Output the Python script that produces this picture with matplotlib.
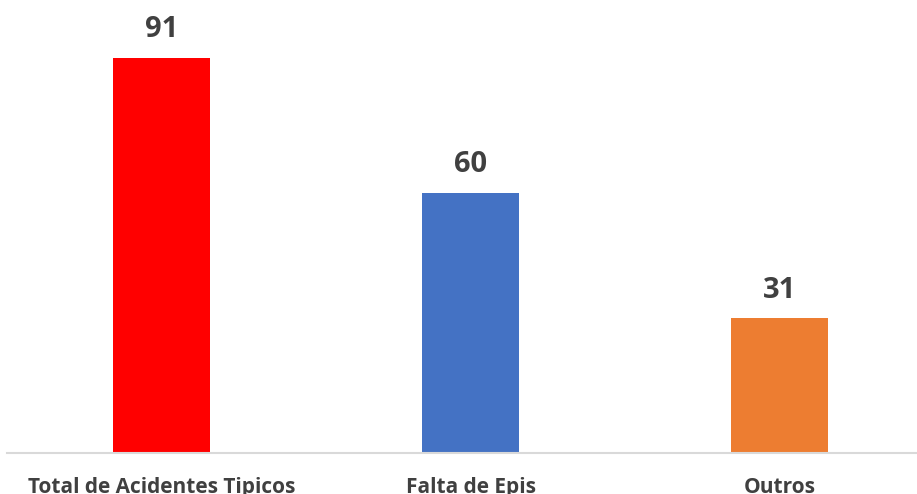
import matplotlib.pyplot as plt

# dados
categorias = ['Total de Acidentes Tipicos', 'Falta de Epis', 'Outros']
valores = [91, 60, 31]
cores = ['#FF0000', '#4472C4', '#ED7D31']

fig = plt.figure(figsize=(9.17, 4.94), dpi=100)
# eixo um pouco maior que a figura, como no recorte original
ax = fig.add_axes([7 / 917, 41 / 494, 927 / 917, 434 / 494])

x = range(len(categorias))
barras = ax.bar(x, valores, width=0.314, color=cores)

ax.set_xlim(-0.5, 2.5)
ax.set_ylim(0, 100)

for b, v in zip(barras, valores):
    ax.annotate(str(v), (b.get_x() + b.get_width() / 2, v),
                xytext=(0, 10), textcoords='offset points',
                ha='center', va='bottom', fontsize=21, fontweight='bold',
                color='#404040', family='Open Sans')

ax.set_xticks(list(x))
ax.set_xticklabels(categorias, fontsize=15, fontweight='bold', color='#404040',
                   family='Open Sans')
ax.tick_params(axis='x', length=0, pad=17)
ax.set_yticks([])

for s in ['top', 'right', 'left']:
    ax.spines[s].set_visible(False)
ax.spines['bottom'].set_color('#D9D9D9')
ax.spines['bottom'].set_linewidth(1.5)

fig.savefig('out.png', dpi=100)
